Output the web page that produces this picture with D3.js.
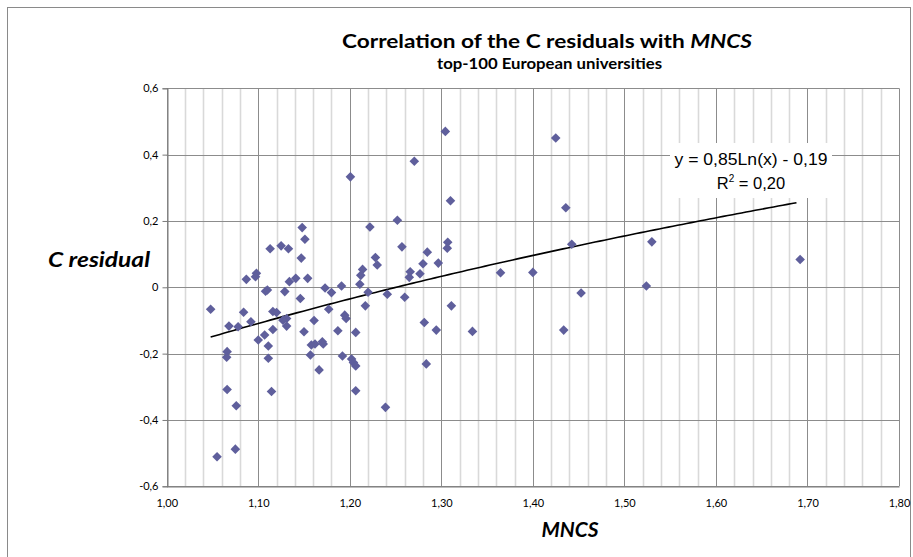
<!DOCTYPE html>
<html>
<head>
<meta charset="utf-8">
<script src="https://cdn.jsdelivr.net/npm/d3@7"></script>
<style>
  html, body { margin: 0; padding: 0; background: #fff; }
  svg { display: block; }
</style>
</head>
<body>
<svg id="chart" width="913" height="557"></svg>
<script>
// ---- data ----
const mncs = [
  1.2007, 1.148, 1.151, 1.113, 1.125, 1.133, 1.147, 1.222, 1.252, 1.257,
  1.228, 1.230, 1.087, 1.098, 1.097, 1.141, 1.154, 1.134, 1.214, 1.212,
  1.211, 1.191, 1.173, 1.180, 1.220, 1.241, 1.260, 1.265, 1.110, 1.108,
  1.129, 1.146, 1.217, 1.048, 1.084, 1.092, 1.068, 1.078, 1.116, 1.120,
  1.131, 1.127, 1.131, 1.116, 1.107, 1.100, 1.111, 1.177, 1.161, 1.1945,
  1.196, 1.150, 1.187, 1.2065, 1.158, 1.162, 1.170, 1.171, 1.157, 1.066,
  1.0655, 1.111, 1.192, 1.202, 1.204, 1.2065, 1.1665, 1.066, 1.1145, 1.2065,
  1.076, 1.239, 1.075, 1.055, 1.3044, 1.2705, 1.425, 1.310, 1.436, 1.307,
  1.3065, 1.2847, 1.4425, 1.280, 1.2967, 1.266, 1.2767, 1.3647, 1.400, 1.311,
  1.4527, 1.2814, 1.2945, 1.334, 1.4337, 1.2836, 1.530, 1.692, 1.524
];
const cResidual = [
  0.333, 0.180, 0.145, 0.116, 0.125, 0.116, 0.088, 0.182, 0.202, 0.122,
  0.090, 0.067, 0.024, 0.042, 0.032, 0.027, 0.027, 0.017, 0.054, 0.036,
  0.009, 0.004, -0.002, -0.016, -0.015, -0.021, -0.030, 0.030, -0.008, -0.012,
  -0.013, -0.034, -0.056, -0.066, -0.075, -0.104, -0.117, -0.119, -0.073, -0.076,
  -0.094, -0.099, -0.117, -0.127, -0.144, -0.159, -0.177, -0.066, -0.100, -0.084,
  -0.094, -0.134, -0.131, -0.136, -0.174, -0.171, -0.164, -0.171, -0.204, -0.194,
  -0.211, -0.214, -0.207, -0.216, -0.227, -0.237, -0.249, -0.308, -0.314, -0.312,
  -0.357, -0.362, -0.488, -0.511, 0.470, 0.380, 0.450, 0.261, 0.240, 0.136,
  0.118, 0.106, 0.130, 0.071, 0.073, 0.047, 0.041, 0.044, 0.045, -0.056,
  -0.017, -0.106, -0.129, -0.133, -0.129, -0.231, 0.137, 0.084, 0.004
];
const xTicks = [1.0, 1.1, 1.2, 1.3, 1.4, 1.5, 1.6, 1.7, 1.8];
const xMinorTicks = [1.0, 1.02, 1.04, 1.06, 1.08, 1.1, 1.12, 1.14, 1.16, 1.18, 1.2, 1.22, 1.24, 1.26, 1.28, 1.3,
  1.32, 1.34, 1.36, 1.38, 1.4, 1.42, 1.44, 1.46, 1.48, 1.5, 1.52, 1.54, 1.56, 1.58, 1.6,
  1.62, 1.64, 1.66, 1.68, 1.7, 1.72, 1.74, 1.76, 1.78, 1.8];
const yTicks = [-0.6, -0.4, -0.2, 0, 0.2, 0.4, 0.6];
const trendCoef = [0.85, -0.19];   // y = a*ln(x) + b
const titleText = ["Correlation of  the C residuals with ", "MNCS"];
const subtitleText = "top-100 European universities";
const xTitle = "MNCS";
const yTitle = "C residual";
const eqLines = ["y = 0,85Ln(x) - 0,19", "R", "2", " = 0,20"];

// ---- layout ----
const svg = d3.select("#chart");
const plot = { left: 166.7, right: 899, top: 88.3, bottom: 486.3 };
const x = d3.scaleLinear().domain([1.0, 1.8]).range([plot.left, plot.right]);
const y = d3.scaleLinear().domain([-0.6, 0.6]).range([plot.bottom, plot.top]);
const fmt = (d, p) => d3.format("." + p + "f")(d).replace(".", ",").replace("\u2212", "-");

svg.append("rect").attr("width", 913).attr("height", 557).attr("fill", "#fff");
// outer chart border
svg.append("rect").attr("x", 7.5).attr("y", 7.5).attr("width", 903).attr("height", 570)
  .attr("fill", "none").attr("stroke", "#8a8a8a").attr("stroke-width", 1);

// minor vertical gridlines
svg.append("g").selectAll("line").data(xMinorTicks.filter(t => !xTicks.some(m => Math.abs(m - t) < 1e-9)))
  .join("line")
  .attr("x1", d => Math.round(x(d)) + 0.5).attr("x2", d => Math.round(x(d)) + 0.5)
  .attr("y1", plot.top).attr("y2", plot.bottom)
  .attr("stroke", "#d9d9d9").attr("stroke-width", 1.6);
// major vertical gridlines
svg.append("g").selectAll("line").data(xTicks)
  .join("line")
  .attr("x1", d => Math.round(x(d)) + 0.5).attr("x2", d => Math.round(x(d)) + 0.5)
  .attr("y1", plot.top).attr("y2", plot.bottom)
  .attr("stroke", "#8c8c8c").attr("stroke-width", 1);
// horizontal gridlines
svg.append("g").selectAll("line").data(yTicks)
  .join("line")
  .attr("x1", plot.left).attr("x2", plot.right)
  .attr("y1", d => Math.round(y(d)) + 0.5).attr("y2", d => Math.round(y(d)) + 0.5)
  .attr("stroke", "#8c8c8c").attr("stroke-width", 1);

// axes
const xAxis = svg.append("g").attr("transform", `translate(0,${Math.round(plot.bottom) + 0.5})`)
  .call(d3.axisBottom(x).tickValues(xTicks).tickSize(0).tickPadding(13).tickFormat(d => fmt(d, 2)));
const yAxis = svg.append("g").attr("transform", `translate(${Math.round(plot.left) + 0.5},0)`)
  .call(d3.axisLeft(y).tickValues(yTicks).tickSize(5).tickPadding(5)
    .tickFormat(d => d === 0 ? "0" : fmt(d, 1)));
[xAxis, yAxis].forEach(g => {
  g.select(".domain").attr("stroke", "#7a7a7a");
  g.selectAll(".tick line").attr("stroke", "#7a7a7a");
  g.selectAll("text").attr("font-family", "Lato, 'Open Sans', sans-serif")
    .attr("font-size", 11).attr("fill", "#000");
});
yAxis.selectAll(".tick text").attr("dx", "1");

// trend line
const tx = d3.range(d3.min(mncs), d3.max(mncs) + 0.0005, 0.005);
const trendLine = d3.line().x(d => x(d)).y(d => y(trendCoef[0] * Math.log(d) + trendCoef[1]));
svg.append("path").datum(tx).attr("d", trendLine)
  .attr("fill", "none").attr("stroke", "#000").attr("stroke-width", 1.6);

// points
const pts = mncs.map((m, i) => ({ m, c: cResidual[i] }));
const sym = d3.symbol().type(d3.symbolSquare).size(46);
svg.append("g").selectAll("path").data(pts).join("path")
  .attr("d", sym)
  .attr("transform", d => `translate(${x(d.m)},${y(d.c)}) rotate(45)`)
  .attr("fill", "#5f5f9c");

// equation label
const eqG = svg.append("g");
eqG.append("rect").attr("x", 670).attr("y", 143).attr("width", 162).attr("height", 55).attr("fill", "#fff");
eqG.append("text").attr("x", 751).attr("y", 165).attr("text-anchor", "middle")
  .attr("font-family", "'Liberation Sans', Arial, sans-serif").attr("font-size", 16.5)
  .attr("textLength", 153).attr("lengthAdjust", "spacingAndGlyphs")
  .text(eqLines[0]);
const r2 = eqG.append("text").attr("x", 751).attr("y", 189).attr("text-anchor", "middle")
  .attr("font-family", "'Liberation Sans', Arial, sans-serif").attr("font-size", 16.5);
r2.append("tspan").text(eqLines[1]);
r2.append("tspan").attr("dy", -7).attr("font-size", 10).text(eqLines[2]);
r2.append("tspan").attr("dy", 7).text(eqLines[3]);

// titles
const title = svg.append("text").attr("x", 547).attr("y", 48).attr("text-anchor", "middle")
  .attr("font-family", "Lato, 'Open Sans', sans-serif").attr("font-weight", "bold").attr("font-size", 18.5)
  .attr("textLength", 410).attr("lengthAdjust", "spacingAndGlyphs");
title.append("tspan").text(titleText[0]);
title.append("tspan").attr("font-style", "italic").text(titleText[1]);
svg.append("text").attr("x", 549.5).attr("y", 69).attr("text-anchor", "middle")
  .attr("font-family", "Lato, 'Open Sans', sans-serif").attr("font-weight", "bold").attr("font-size", 15.5)
  .attr("textLength", 225).attr("lengthAdjust", "spacingAndGlyphs")
  .text(subtitleText);
svg.append("text").attr("x", 570).attr("y", 537).attr("text-anchor", "middle")
  .attr("font-family", "Lato, 'Open Sans', sans-serif").attr("font-weight", "bold").attr("font-style", "italic")
  .attr("font-size", 20).attr("textLength", 57).attr("lengthAdjust", "spacingAndGlyphs")
  .text(xTitle);
svg.append("text").attr("x", 99).attr("y", 267).attr("text-anchor", "middle")
  .attr("font-family", "Lato, 'Open Sans', sans-serif").attr("font-weight", "bold").attr("font-style", "italic")
  .attr("font-size", 20).attr("textLength", 102).attr("lengthAdjust", "spacingAndGlyphs")
  .text(yTitle);
</script>
</body>
</html>
